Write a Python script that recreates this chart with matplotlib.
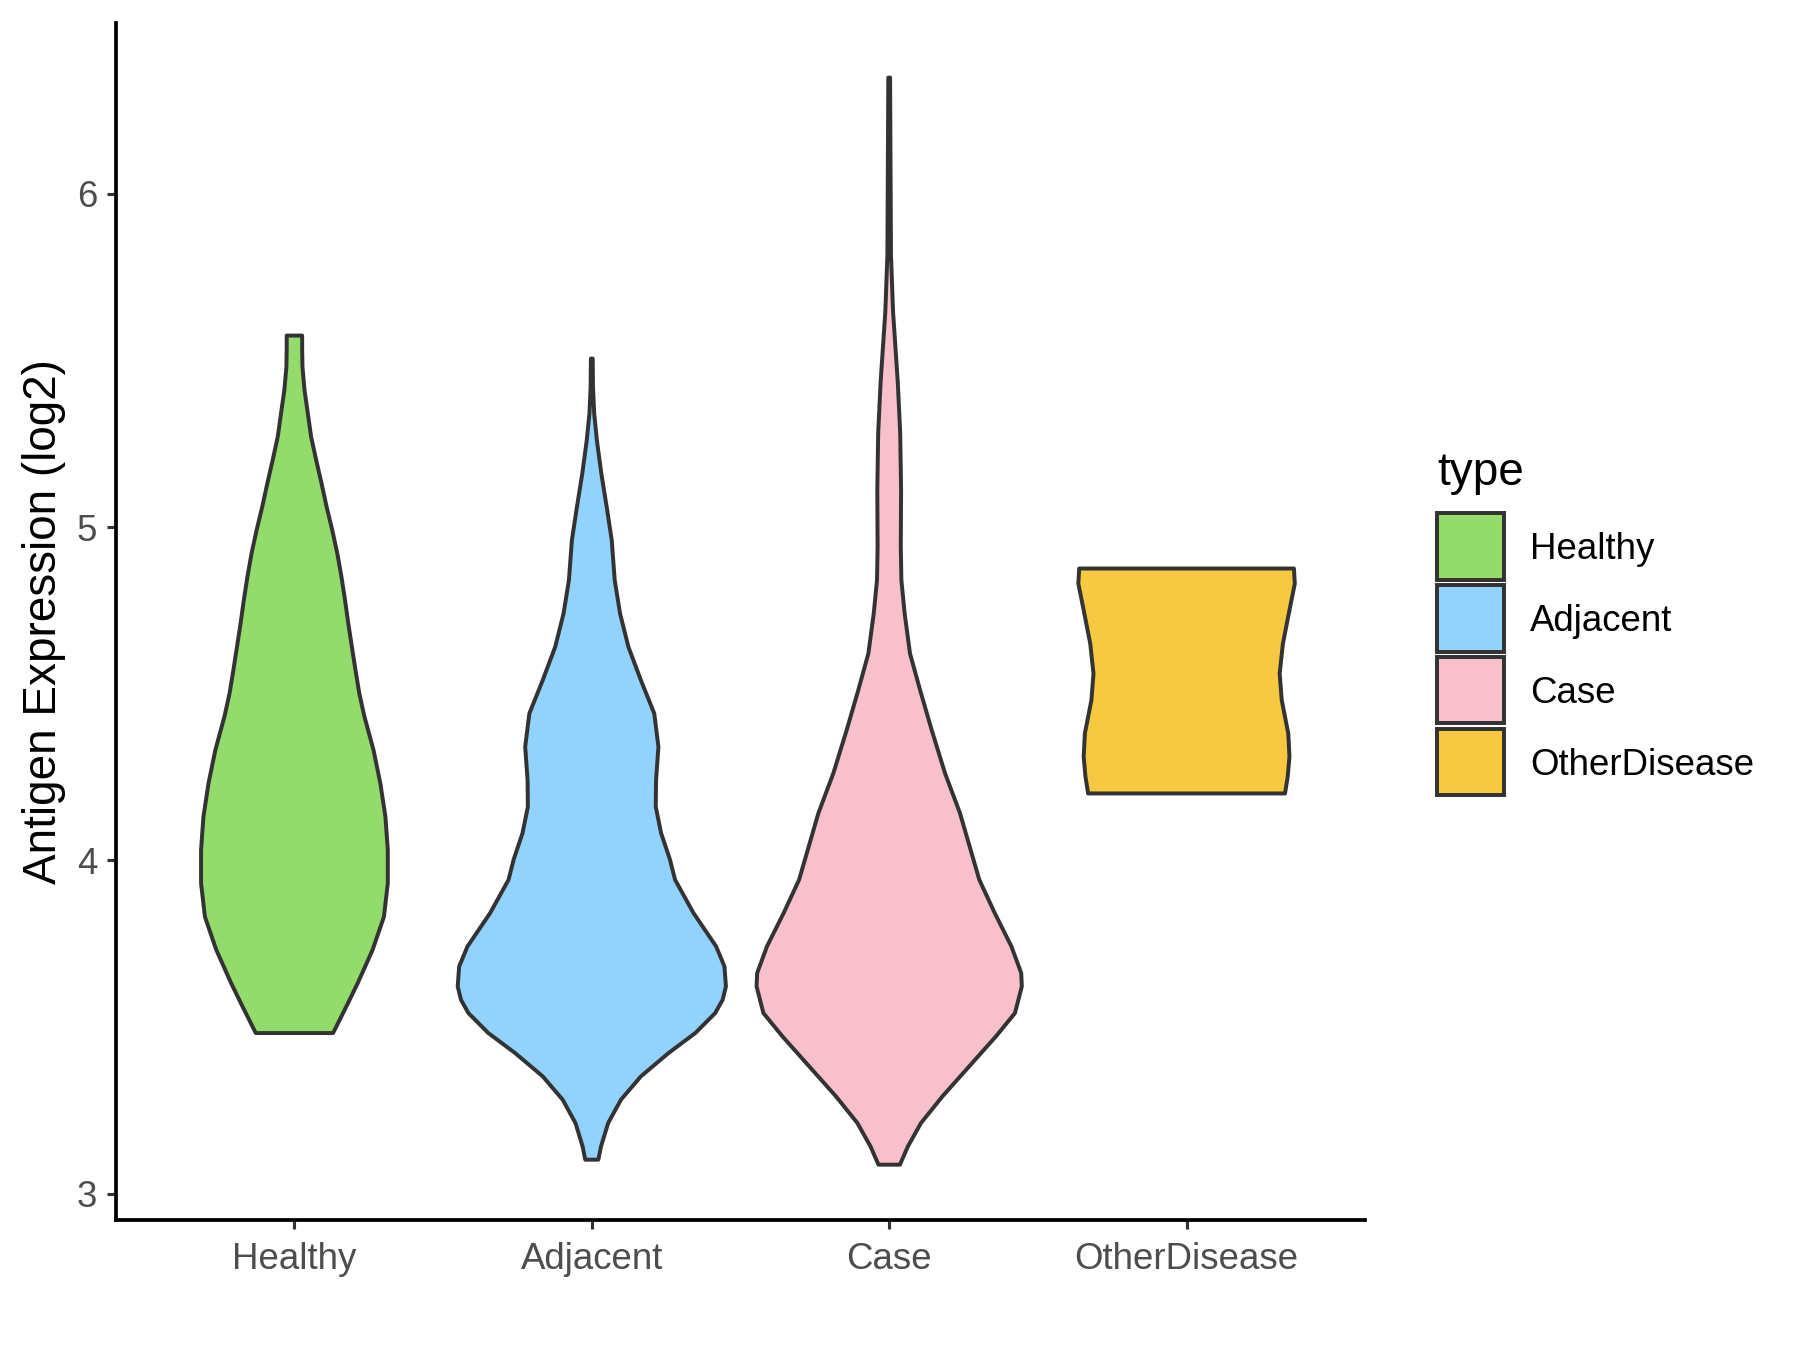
import matplotlib
matplotlib.use("Agg")
import matplotlib.pyplot as plt
from matplotlib.patches import Rectangle

# ---------------- data ----------------
categories = ["Healthy", "Adjacent", "Case", "OtherDisease"]
colors = ["#93DB6A", "#92D3FE", "#F7C0CB", "#F6C940"]

# violin outlines: expression value (y) and half-width (in category units)
healthy_y = [3.482, 3.557, 3.632, 3.732, 3.831, 3.932, 4.031, 4.131, 4.231, 4.331,
             4.433, 4.502, 4.573, 4.642, 4.712, 4.782, 4.852, 4.922, 4.992, 5.062,
             5.132, 5.202, 5.272, 5.342, 5.411, 5.481, 5.537, 5.575]
healthy_w = [0.130, 0.172, 0.213, 0.263, 0.301, 0.314, 0.314, 0.306, 0.289, 0.266,
             0.235, 0.218, 0.205, 0.193, 0.181, 0.170, 0.158, 0.144, 0.127, 0.108,
             0.091, 0.073, 0.056, 0.045, 0.034, 0.027, 0.026, 0.026]

adjacent_y = [3.102, 3.142, 3.212, 3.282, 3.352, 3.422, 3.482, 3.542, 3.582, 3.622,
              3.682, 3.742, 3.842, 3.942, 4.002, 4.082, 4.161, 4.241, 4.341, 4.441,
              4.541, 4.641, 4.741, 4.841, 4.961, 5.061, 5.161, 5.261, 5.341, 5.420,
              5.506]
adjacent_w = [0.022, 0.031, 0.055, 0.098, 0.165, 0.258, 0.348, 0.415, 0.440, 0.451,
              0.446, 0.418, 0.342, 0.280, 0.263, 0.233, 0.215, 0.216, 0.224, 0.210,
              0.165, 0.123, 0.095, 0.077, 0.067, 0.050, 0.032, 0.017, 0.008, 0.004,
              0.003]

case_y = [3.087, 3.142, 3.212, 3.292, 3.382, 3.472, 3.542, 3.622, 3.662, 3.742,
          3.842, 3.942, 4.142, 4.261, 4.391, 4.511, 4.621, 4.741, 4.841, 4.941,
          5.112, 5.283, 5.433, 5.647, 5.818, 6.349]
case_w = [0.036, 0.063, 0.107, 0.179, 0.269, 0.359, 0.423, 0.446, 0.444, 0.411,
          0.355, 0.303, 0.238, 0.188, 0.143, 0.104, 0.070, 0.052, 0.041, 0.039,
          0.040, 0.037, 0.029, 0.013, 0.006, 0.003]

other_y = [4.201, 4.251, 4.311, 4.381, 4.481, 4.561, 4.651, 4.751, 4.831, 4.876]
other_w = [0.331, 0.340, 0.346, 0.342, 0.320, 0.313, 0.324, 0.346, 0.364, 0.361]

profiles = [(healthy_y, healthy_w), (adjacent_y, adjacent_w),
            (case_y, case_w), (other_y, other_w)]

y_ticks = [3, 4, 5, 6]
y_label = "Antigen Expression (log2)"
legend_title = "type"

# ---------------- figure ----------------
FONT = ["Liberation Sans", "DejaVu Sans"]
plt.rcParams["font.family"] = FONT

W, H = 1800, 1350
fig = plt.figure(figsize=(12, 9), dpi=150)
ax = fig.add_axes([116 / W, 1 - 1220 / H, (1365 - 116) / W, (1220 - 23) / H])

edge = "#333333"
for i, ((ys, ws), col) in enumerate(zip(profiles, colors)):
    c = i + 1
    xs = [c - w for w in ws] + [c + w for w in ws[::-1]]
    yy = list(ys) + list(ys[::-1])
    ax.fill(xs, yy, facecolor=col, edgecolor=edge, linewidth=1.9,
            joinstyle="round", zorder=2)

ax.set_xlim(0.4, 4.6)
ax.set_ylim(2.921, 6.513)
ax.set_xticks(range(1, len(categories) + 1))
ax.set_xticklabels(categories)
ax.set_yticks(y_ticks)
ax.set_yticklabels([str(t) for t in y_ticks])

for s in ["top", "right"]:
    ax.spines[s].set_visible(False)
for s in ["left", "bottom"]:
    ax.spines[s].set_color("black")
    ax.spines[s].set_linewidth(1.8)

ax.tick_params(axis="both", length=4.5, width=1.5, color=edge,
               labelcolor="#4D4D4D", labelsize=17.6)
ax.tick_params(axis="x", pad=6)
ax.tick_params(axis="y", pad=4.5)
ax.set_ylabel(y_label, fontsize=22, color="black", labelpad=5)

# ---------------- legend (ggplot style) ----------------
fig.text(1437 / W, 1 - 485 / H, legend_title, fontsize=22, color="black",
         ha="left", va="baseline")
key = 66.6
step = 71.9
top0 = 513
for j, (lab, col) in enumerate(zip(categories, colors)):
    t = top0 + j * step
    fig.add_artist(Rectangle((1437 / W, 1 - (t + key) / H), key / W, key / H,
                             transform=fig.transFigure, facecolor=col,
                             edgecolor=edge, linewidth=1.9))
    fig.text(1530 / W, 1 - (t + key / 2 + 3.5) / H, lab, fontsize=17.6,
             color="black", ha="left", va="center")

fig.savefig("out.png", dpi=150, facecolor="white")
